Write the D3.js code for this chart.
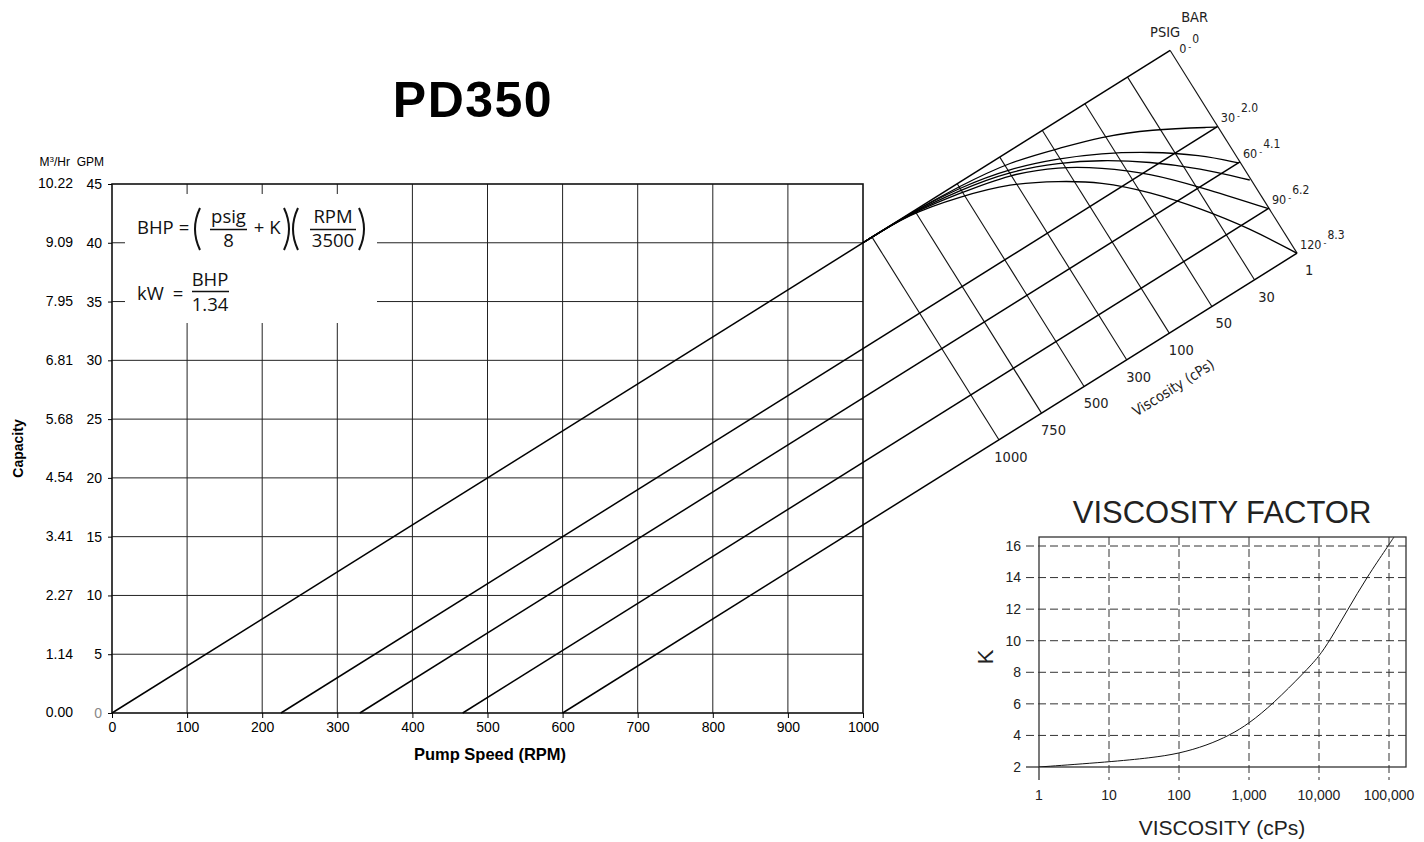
<!DOCTYPE html>
<html>
<head>
<meta charset="utf-8">
<script src="https://cdn.jsdelivr.net/npm/d3@7"></script>
<style>
	body { margin: 0; background: #fff; }
	svg { display: block; }
</style>
</head>
<body>
<div id="chart"></div>
<script>
// main chart: capacity vs pump speed
const rpmTicks = [0, 100, 200, 300, 400, 500, 600, 700, 800, 900, 1000];
const gpmTicks = [0, 5, 10, 15, 20, 25, 30, 35, 40, 45];
const m3Labels = ['0.00', '1.14', '2.27', '3.41', '4.54', '5.68', '6.81', '7.95', '9.09', '10.22'];
const gpmPerRev = 0.04; // 40 GPM at 1000 RPM

// slip lines, one per discharge pressure (RPM where flow drops to 0)
const psigValues = [0, 30, 60, 90, 120];
const barLabels = ['0', '2.0', '4.1', '6.2', '8.3'];
const slipRpm = [0, 225, 330, 467, 600];

// nomograph viscosity divisions, left to right
const viscLabels = ['1000', '750', '500', '300', '100', '50', '30', '1'];

// nomograph curves, as [rpm, gpm] on the extended chart
const curveA = [[1000, 40], [1062, 42.48], [1129, 44.83], [1196, 46.9], [1262, 48.04], [1316, 49.0], [1382, 49.65], [1471, 49.84]];
const curveB = [[1000, 40], [1062, 42.48], [1129, 44.72], [1196, 46.33], [1262, 47.18], [1316, 47.61], [1382, 47.75], [1449, 47.47], [1500, 46.8]];
const curveC = [[1000, 40], [1062, 42.48], [1129, 44.49], [1196, 46.1], [1262, 46.81], [1316, 47.04], [1382, 46.9], [1449, 46.33], [1515, 45.34]];
const curveD = [[1000, 40], [1062, 42.48], [1129, 44.21], [1196, 45.85], [1262, 46.47], [1316, 46.4], [1382, 45.91], [1449, 44.74], [1540, 42.9]];
const curveE = [[1000, 40], [1062, 42.48], [1129, 43.92], [1196, 45.06], [1262, 45.25], [1316, 45.19], [1382, 44.34], [1449, 42.93], [1515, 41.23], [1578, 39.1]];

// viscosity factor chart
const viscCps = [1, 10, 40, 100, 250, 525, 1000, 2200, 6200, 10000, 14200, 26000, 48000, 97000, 117000];
const kFactor = [2, 2.32, 2.58, 2.85, 3.37, 4.0, 4.75, 6.0, 8.0, 9.0, 10.0, 12.0, 14.0, 16.0, 16.55];
const viscTicks = [1, 10, 100, 1000, 10000, 100000];
const kTicks = [2, 4, 6, 8, 10, 12, 14, 16];

const ARIAL = '"Liberation Sans", Arial, Helvetica, sans-serif';
const MYRIAD = '"Open Sans", "Noto Sans", sans-serif';
const NARROW = '"Liberation Sans Narrow", "DejaVu Sans Condensed", "Open Sans", sans-serif';

const svg = d3.select('#chart').append('svg')
	.attr('width', 1424)
	.attr('height', 842)
	.style('font-family', ARIAL);

const x = d3.scaleLinear().domain([0, 1000]).range([112, 863]);
const y = d3.scaleLinear().domain([0, 45]).range([713, 184]);

function drawMain() {
	const g = svg.append('g');

	g.append('g').selectAll('line')
		.data(rpmTicks.slice(1, -1))
		.join('line')
		.attr('x1', d => x(d)).attr('x2', d => x(d))
		.attr('y1', y(0)).attr('y2', y(45))
		.attr('stroke', '#222').attr('stroke-width', 1);

	g.append('g').selectAll('line')
		.data(gpmTicks.slice(1, -1))
		.join('line')
		.attr('x1', x(0)).attr('x2', x(1000))
		.attr('y1', d => y(d)).attr('y2', d => y(d))
		.attr('stroke', '#222').attr('stroke-width', 1);

	// formula panel covers the grid
	g.append('rect')
		.attr('x', 125).attr('y', 194)
		.attr('width', 252).attr('height', 129)
		.attr('fill', '#fff');

	g.append('rect')
		.attr('x', x(0)).attr('y', y(45))
		.attr('width', x(1000) - x(0)).attr('height', y(0) - y(45))
		.attr('fill', 'none').attr('stroke', '#111').attr('stroke-width', 1.6);

	const axB = g.append('g')
		.attr('transform', `translate(0,${y(0)})`)
		.call(d3.axisBottom(x).tickValues(rpmTicks).tickFormat(d3.format('d')).tickSize(5).tickPadding(4))
		.attr('font-size', 14).attr('font-family', ARIAL);
	axB.select('.domain').remove();

	const axL = g.append('g')
		.attr('transform', `translate(${x(0)},0)`)
		.call(d3.axisLeft(y).tickValues(gpmTicks).tickSize(4).tickPadding(6))
		.attr('font-size', 14).attr('font-family', ARIAL);
	axL.select('.domain').remove();
	axL.selectAll('.tick text').filter(d => d === 0).attr('fill', '#888');

	g.append('g').selectAll('text')
		.data(gpmTicks)
		.join('text')
		.attr('x', 73).attr('y', d => y(d)).attr('dy', '0.32em')
		.attr('text-anchor', 'end').attr('font-size', 14)
		.text((d, i) => m3Labels[i]);

	g.append('text').attr('x', 70).attr('y', 166).attr('text-anchor', 'end')
		.attr('font-size', 12).html('M<tspan font-size="8" dy="-4">3</tspan><tspan dy="4">/Hr</tspan>');
	g.append('text').attr('x', 104).attr('y', 166).attr('text-anchor', 'end')
		.attr('font-size', 12).text('GPM');

	g.append('text')
		.attr('transform', `translate(23,${(y(0) + y(45)) / 2}) rotate(-90)`)
		.attr('text-anchor', 'middle').attr('font-size', 14).attr('font-weight', 'bold')
		.text('Capacity');

	g.append('text')
		.attr('x', 490).attr('y', 760)
		.attr('text-anchor', 'middle').attr('font-size', 16.5).attr('font-weight', 'bold')
		.text('Pump Speed (RPM)');

	g.append('text')
		.attr('x', 473).attr('y', 117)
		.attr('text-anchor', 'middle').attr('font-size', 50).attr('font-weight', 'bold')
		.attr('letter-spacing', 1.5)
		.text('PD350');

	drawFormula(g);
	return g;
}

function drawFormula(g) {
	const f = g.append('g').attr('font-family', MYRIAD).attr('font-size', 18.5).attr('fill', '#111');
	const txt = (tx, ty, s, anchor) => f.append('text').attr('x', tx).attr('y', ty)
		.attr('text-anchor', anchor || 'start').text(s);
	const bar = (x1, x2, by) => f.append('line').attr('x1', x1).attr('x2', x2)
		.attr('y1', by).attr('y2', by).attr('stroke', '#111').attr('stroke-width', 1.3);
	const paren = (px, open) => f.append('path')
		.attr('d', open ? `M${px + 6},208 Q${px - 4},229 ${px + 6},250` : `M${px},208 Q${px + 10},229 ${px},250`)
		.attr('fill', 'none').attr('stroke', '#111').attr('stroke-width', 2);

	txt(137, 234, 'BHP');
	txt(184, 234, '=', 'middle');
	paren(194, true);
	txt(228.5, 222.5, 'psig', 'middle');
	bar(210, 247, 229.5);
	txt(228.5, 247, '8', 'middle');
	txt(259, 234, '+', 'middle');
	txt(275, 234, 'K', 'middle');
	paren(284, false);
	paren(292, true);
	txt(333, 222.5, 'RPM', 'middle');
	bar(310, 356, 229.5);
	txt(333, 247, '3500', 'middle');
	paren(359, false);

	txt(137, 300, 'kW');
	txt(178, 300, '=', 'middle');
	txt(210, 286, 'BHP', 'middle');
	bar(192, 229, 291.5);
	txt(210, 311, '1.34', 'middle');
}

function drawNomograph(g) {
	const p0 = r => [x(r), y(gpmPerRev * r)];
	const a0 = p0(0), a1 = p0(1000);
	const len = Math.hypot(a1[0] - a0[0], a1[1] - a0[1]);
	const ux = (a1[0] - a0[0]) / len, uy = (a1[1] - a0[1]) / len;
	const v = [-uy, ux];
	const offset = rpm => (x(rpm) - x(0)) * (-uy);
	const angle = Math.atan2(uy, ux) * 180 / Math.PI;

	const viscPos = d3.scalePoint().domain(viscLabels).range([1012, 1409]);
	const rEnd = viscPos('1');
	const depth = offset(slipRpm[slipRpm.length - 1]);

	const ends = slipRpm.map(r => {
		const p = p0(rEnd), o = offset(r);
		return [p[0] + o * v[0], p[1] + o * v[1]];
	});

	// viscosity cross lines
	g.append('g').selectAll('line')
		.data(viscLabels)
		.join('line')
		.each(function (d) {
			const p = p0(viscPos(d));
			d3.select(this)
				.attr('x1', p[0]).attr('y1', p[1])
				.attr('x2', p[0] + depth * v[0]).attr('y2', p[1] + depth * v[1]);
		})
		.attr('stroke', '#111').attr('stroke-width', 1.1);

	// slip lines from zero flow to the nomograph edge
	g.append('g').selectAll('line')
		.data(slipRpm)
		.join('line')
		.attr('x1', d => x(d)).attr('y1', y(0))
		.attr('x2', (d, i) => ends[i][0]).attr('y2', (d, i) => ends[i][1])
		.attr('stroke', '#000').attr('stroke-width', 1.5);

	const line = d3.line().x(d => x(d[0])).y(d => y(d[1])).curve(d3.curveBasis);
	g.append('g').selectAll('path')
		.data([curveA, curveB, curveC, curveD, curveE])
		.join('path')
		.attr('d', line)
		.attr('fill', 'none').attr('stroke', '#000').attr('stroke-width', 1.3);

	// pressure labels
	const lab = g.append('g').attr('font-family', NARROW).attr('fill', '#222');
	psigValues.forEach((p, i) => {
		const off = i === 0 ? [9, 3] : [3, -4];
		const t = lab.append('text')
			.attr('x', ends[i][0] + off[0]).attr('y', ends[i][1] + off[1])
			.attr('font-size', 12.5);
		t.append('tspan').text(p);
		t.append('tspan').attr('font-size', 9).attr('dx', 2).attr('dy', -3).text('-');
		t.append('tspan').attr('font-size', 12).attr('dx', 1).attr('dy', -7).text(barLabels[i]);
	});
	const top = ends[0];
	lab.append('text').attr('x', top[0] + 10).attr('y', top[1] - 13)
		.attr('text-anchor', 'end').attr('font-size', 14.5).text('PSIG');
	lab.append('text').attr('x', top[0] + 11).attr('y', top[1] - 28)
		.attr('font-size', 14.5).text('BAR');

	// viscosity labels along the bottom edge
	lab.selectAll('.visc')
		.data(viscLabels)
		.join('text')
		.attr('class', 'visc')
		.attr('x', d => p0(viscPos(d))[0] + depth * v[0] + 12)
		.attr('y', d => p0(viscPos(d))[1] + depth * v[1] + 22)
		.attr('text-anchor', 'middle').attr('font-size', 14.5)
		.text(d => d);

	lab.append('text')
		.attr('transform', `translate(1176,392) rotate(${angle})`)
		.attr('text-anchor', 'middle').attr('font-size', 14.5)
		.text('Viscosity (cPs)');
}

function drawViscosityFactor() {
	const vx = d3.scaleLog().domain([1, 1e5]).range([1039, 1389]);
	const vy = d3.scaleLinear().domain([2, 16]).range([767, 546]);
	const left = vx(1), right = 1406, top = 537, bottom = vy(2);
	const g = svg.append('g');

	g.append('defs').append('clipPath').attr('id', 'vf-clip')
		.append('rect').attr('x', left).attr('y', top)
		.attr('width', right - left).attr('height', bottom - top);

	g.append('g').selectAll('line')
		.data(kTicks.slice(1))
		.join('line')
		.attr('x1', left - 13).attr('x2', right)
		.attr('y1', d => vy(d)).attr('y2', d => vy(d))
		.attr('stroke', '#333').attr('stroke-dasharray', '8,4');

	g.append('g').selectAll('line')
		.data(viscTicks.slice(1))
		.join('line')
		.attr('x1', d => vx(d)).attr('x2', d => vx(d))
		.attr('y1', top).attr('y2', bottom + 13)
		.attr('stroke', '#333').attr('stroke-dasharray', '8,4');

	g.append('rect')
		.attr('x', left).attr('y', top)
		.attr('width', right - left).attr('height', bottom - top)
		.attr('fill', 'none').attr('stroke', '#333').attr('stroke-width', 1.3);
	g.append('line').attr('x1', left - 13).attr('x2', left)
		.attr('y1', bottom).attr('y2', bottom).attr('stroke', '#333').attr('stroke-width', 1.3);
	g.append('line').attr('x1', left).attr('x2', left)
		.attr('y1', bottom).attr('y2', bottom + 13).attr('stroke', '#333').attr('stroke-width', 1.3);

	const fmt = d3.format(',');
	g.append('g').selectAll('text')
		.data(viscTicks)
		.join('text')
		.attr('x', d => vx(d)).attr('y', bottom + 33)
		.attr('text-anchor', 'middle').attr('font-size', 14).attr('fill', '#222')
		.text(d => fmt(d));

	g.append('g').selectAll('text')
		.data(kTicks)
		.join('text')
		.attr('x', left - 18).attr('y', d => vy(d)).attr('dy', '0.35em')
		.attr('text-anchor', 'end').attr('font-size', 14).attr('fill', '#222')
		.text(d => d);

	g.append('path')
		.datum(viscCps.map((c, i) => [c, kFactor[i]]))
		.attr('clip-path', 'url(#vf-clip)')
		.attr('d', d3.line().x(d => vx(d[0])).y(d => vy(d[1])).curve(d3.curveBasis))
		.attr('fill', 'none').attr('stroke', '#111').attr('stroke-width', 1);

	g.append('text')
		.attr('x', 1222).attr('y', 523)
		.attr('text-anchor', 'middle').attr('font-size', 31).attr('fill', '#222')
		.text('VISCOSITY FACTOR');

	g.append('text')
		.attr('x', 1222).attr('y', 835)
		.attr('text-anchor', 'middle').attr('font-size', 21).attr('fill', '#222')
		.text('VISCOSITY (cPs)');

	g.append('text')
		.attr('transform', `translate(993,${(top + bottom) / 2 + 5}) rotate(-90)`)
		.attr('text-anchor', 'middle').attr('font-size', 22).attr('fill', '#222')
		.text('K');
}

const mainG = drawMain();
drawNomograph(mainG);
drawViscosityFactor();
</script>
</body>
</html>
